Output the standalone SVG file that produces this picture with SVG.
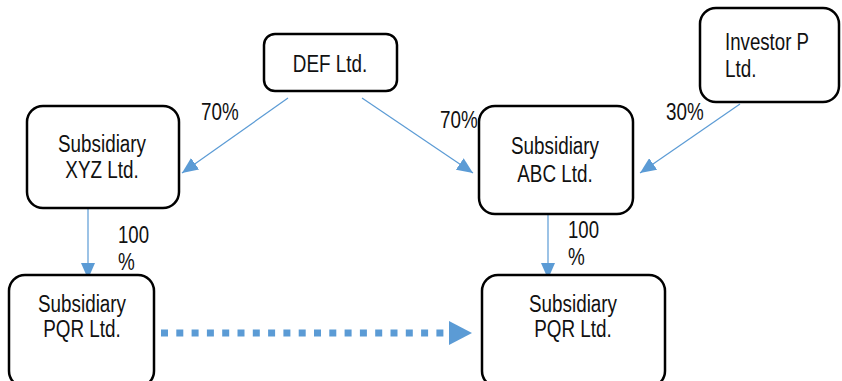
<svg xmlns="http://www.w3.org/2000/svg" width="842" height="381" viewBox="0 0 842 381">
<defs>
<marker id="ah" markerUnits="userSpaceOnUse" markerWidth="18" markerHeight="14" refX="16" refY="7" orient="auto">
<path d="M0,0 L16,7 L0,14 Z" fill="#5B9BD5"/>
</marker>
<marker id="ahBig" markerUnits="userSpaceOnUse" markerWidth="26" markerHeight="26" refX="24" refY="12" orient="auto">
<path d="M0,0 L24,12 L0,24 Z" fill="#5B9BD5"/>
</marker>
</defs>
<style>
.box{fill:#fff;stroke:#000;stroke-width:2.5}
text{font-family:"Liberation Sans Narrow","Liberation Sans",Arial,sans-serif;font-size:23px;fill:#111}
.c{text-anchor:middle}
.ln{stroke:#5B9BD5;stroke-width:1.2;fill:none}
</style>
<rect width="842" height="381" fill="#fff"/>
<g id="connectors">
<line class="ln" x1="288" y1="98" x2="182" y2="173" marker-end="url(#ah)"/>
<line class="ln" x1="362" y1="98" x2="473" y2="173" marker-end="url(#ah)"/>
<line class="ln" x1="740" y1="104" x2="640" y2="173" marker-end="url(#ah)"/>
<line class="ln" x1="88" y1="207" x2="88" y2="279" marker-end="url(#ah)"/>
<line class="ln" x1="548" y1="206" x2="548" y2="279" marker-end="url(#ah)"/>
<line x1="161" y1="333" x2="449" y2="333" stroke="#5B9BD5" stroke-width="7" stroke-dasharray="7 8.3"/>
<path d="M449,321 L472,333 L449,345 Z" fill="#5B9BD5"/>
<text x="201" y="120" textLength="37.7" lengthAdjust="spacingAndGlyphs">70%</text>
<text x="440" y="128" textLength="37.7" lengthAdjust="spacingAndGlyphs">70%</text>
<text x="666" y="120" textLength="37.7" lengthAdjust="spacingAndGlyphs">30%</text>
<text x="118" y="243" textLength="31" lengthAdjust="spacingAndGlyphs">100</text>
<text x="118" y="270" textLength="16.8" lengthAdjust="spacingAndGlyphs">%</text>
<text x="568" y="238" textLength="31" lengthAdjust="spacingAndGlyphs">100</text>
<text x="568" y="265" textLength="16.8" lengthAdjust="spacingAndGlyphs">%</text>
</g>
<g id="def">
<rect class="box" x="264" y="34" width="133" height="57" rx="11"/>
<text class="c" x="330" y="72" textLength="74.4" lengthAdjust="spacingAndGlyphs">DEF Ltd.</text>
</g>
<g id="investor">
<rect class="box" x="700" y="8" width="139" height="94" rx="16"/>
<text x="725" y="50" textLength="84" lengthAdjust="spacingAndGlyphs">Investor P</text>
<text x="725" y="77" textLength="31.5" lengthAdjust="spacingAndGlyphs">Ltd.</text>
</g>
<g id="xyz">
<rect class="box" x="27" y="106" width="152" height="102" rx="16"/>
<text class="c" x="102" y="152" textLength="88" lengthAdjust="spacingAndGlyphs">Subsidiary</text>
<text class="c" x="102" y="178" textLength="73.4" lengthAdjust="spacingAndGlyphs">XYZ Ltd.</text>
</g>
<g id="abc">
<rect class="box" x="479" y="106" width="154" height="108" rx="16"/>
<text class="c" x="555" y="154" textLength="88" lengthAdjust="spacingAndGlyphs">Subsidiary</text>
<text class="c" x="555" y="182" textLength="75.5" lengthAdjust="spacingAndGlyphs">ABC Ltd.</text>
</g>
<g id="pqr-left">
<rect class="box" x="9" y="275" width="145" height="112" rx="16"/>
<text class="c" x="82" y="312" textLength="88" lengthAdjust="spacingAndGlyphs">Subsidiary</text>
<text class="c" x="82" y="337" textLength="77.6" lengthAdjust="spacingAndGlyphs">PQR Ltd.</text>
</g>
<g id="pqr-right">
<rect class="box" x="482" y="275" width="183" height="112" rx="16"/>
<text class="c" x="573" y="312" textLength="88" lengthAdjust="spacingAndGlyphs">Subsidiary</text>
<text class="c" x="573" y="337" textLength="77.6" lengthAdjust="spacingAndGlyphs">PQR Ltd.</text>
</g>
</svg>
